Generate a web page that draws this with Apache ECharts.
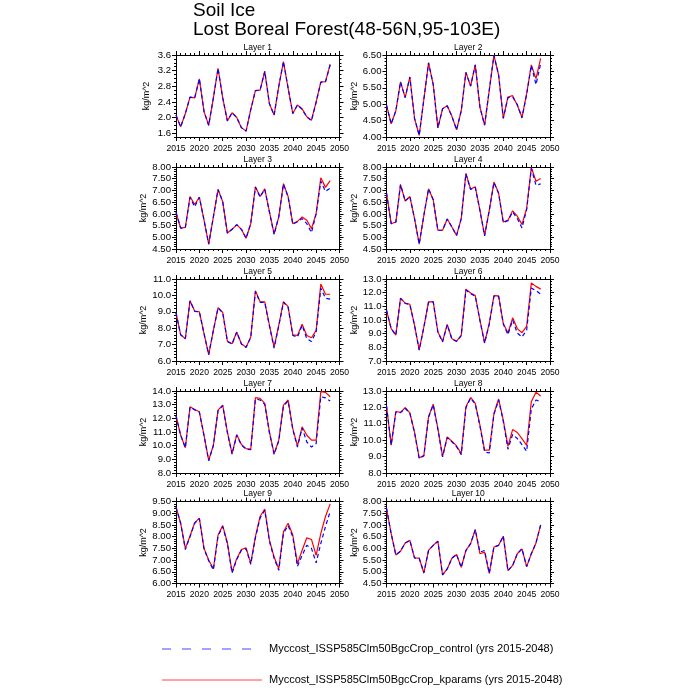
<!DOCTYPE html>
<html><head><meta charset="utf-8">
<script src="https://cdn.jsdelivr.net/npm/echarts@6/dist/echarts.min.js"></script>
<style>html,body{margin:0;padding:0;background:#fff}#c{width:700px;height:700px}</style>
</head><body><div id="c"></div>
<script>
const years = [2015,2016,2017,2018,2019,2020,2021,2022,2023,2024,2025,2026,2027,2028,2029,2030,2031,2032,2033,2034,2035,2036,2037,2038,2039,2040,2041,2042,2043,2044,2045,2046,2047,2048];
const xTicks = [2015,2020,2025,2030,2035,2040,2045,2050];
const layerNames = ['Layer 1','Layer 2','Layer 3','Layer 4','Layer 5','Layer 6','Layer 7','Layer 8','Layer 9','Layer 10'];
const seriesNames = ['Myccost_ISSP585Clm50BgcCrop_control (yrs 2015-2048)','Myccost_ISSP585Clm50BgcCrop_kparams (yrs 2015-2048)'];

const kparams1 = [2.06,1.76,2.1,2.52,2.5,2.99,2.15,1.8,2.5,3.26,2.5,1.91,2.12,2.0,1.74,1.65,2.2,2.69,2.7,3.18,2.35,2.06,2.8,3.43,2.75,2.1,2.32,2.22,2.02,1.93,2.4,2.91,2.92,3.36];
const control1 = [2.06,1.76,2.1,2.52,2.5,2.99,2.15,1.8,2.5,3.26,2.5,1.91,2.12,2.0,1.74,1.65,2.2,2.69,2.7,3.18,2.35,2.06,2.8,3.43,2.75,2.1,2.32,2.21,2.01,1.92,2.39,2.9,2.91,3.35];
const kparams2 = [4.97,4.4,4.8,5.68,5.2,5.83,4.57,4.05,5.15,6.26,5.6,4.28,4.86,4.95,4.63,4.22,4.8,5.97,5.55,6.2,4.91,4.36,5.43,6.49,5.89,4.57,5.22,5.26,4.97,4.6,5.32,6.2,5.78,6.4];
const control2 = [4.97,4.4,4.8,5.68,5.2,5.83,4.57,4.05,5.15,6.26,5.6,4.28,4.86,4.95,4.63,4.22,4.8,5.97,5.55,6.2,4.91,4.36,5.43,6.49,5.89,4.57,5.2,5.22,4.99,4.58,5.3,6.18,5.6,6.24];
const kparams3 = [6.06,5.39,5.42,6.74,6.4,6.71,5.73,4.71,5.87,7.04,6.52,5.18,5.34,5.54,5.34,4.96,5.58,7.16,6.74,7.07,6.09,5.15,5.87,7.29,6.74,5.58,5.68,5.87,5.73,5.37,6.02,7.54,7.13,7.42];
const control3 = [6.06,5.39,5.42,6.7,6.3,6.71,5.73,4.71,5.87,7.04,6.52,5.18,5.34,5.54,5.34,4.96,5.58,7.14,6.72,7.05,6.07,5.12,5.87,7.27,6.72,5.56,5.66,5.8,5.58,5.2,6.0,7.39,6.96,7.1];
const kparams4 = [6.89,5.58,5.65,7.25,6.55,6.74,5.8,4.71,5.94,7.07,6.6,5.3,5.3,5.78,5.44,5.08,5.8,7.73,7.06,7.15,6.16,5.08,6.16,7.36,6.89,5.65,5.73,6.13,5.9,5.55,6.23,7.98,7.39,7.51];
const control4 = [6.89,5.58,5.65,7.25,6.55,6.74,5.8,4.71,5.94,7.07,6.6,5.3,5.3,5.78,5.44,5.08,5.8,7.71,7.04,7.13,6.14,5.06,6.14,7.34,6.87,5.63,5.71,6.08,5.8,5.4,6.18,7.94,7.22,7.28];
const kparams5 = [8.94,7.6,7.36,9.68,9.05,9.0,7.67,6.39,7.87,9.25,8.96,7.21,7.05,7.77,7.05,6.84,7.46,10.28,9.62,9.6,8.18,6.84,8.18,9.62,9.31,7.6,7.56,8.24,7.56,7.42,7.87,10.69,10.07,10.07];
const control5 = [8.94,7.6,7.36,9.66,9.03,9.0,7.67,6.39,7.87,9.23,8.94,7.19,7.03,7.75,7.03,6.82,7.44,10.24,9.58,9.58,8.14,6.78,8.14,9.58,9.27,7.56,7.46,8.18,7.36,7.19,7.77,10.44,9.83,9.77];
const kparams6 = [10.73,9.37,8.9,11.6,11.23,11.15,9.62,7.81,9.49,11.32,11.35,9.12,8.43,9.67,8.63,8.46,8.88,12.26,11.98,11.79,10.0,8.35,9.75,11.79,11.77,9.75,9.05,10.16,9.37,9.07,9.54,12.7,12.46,12.26];
const control6 = [10.73,9.37,8.9,11.58,11.21,11.13,9.6,7.79,9.47,11.3,11.33,9.1,8.4,9.65,8.6,8.43,8.85,12.2,11.92,11.75,9.96,8.3,9.7,11.75,11.73,9.7,8.93,10.0,9.05,8.75,9.25,12.33,12.16,11.89];
const kparams7 = [12.19,10.76,9.85,12.85,12.65,12.48,10.76,8.93,10.03,12.6,12.97,11.0,9.42,10.81,10.08,9.78,9.74,13.51,13.46,13.09,11.0,9.42,10.4,12.97,13.34,11.25,9.98,11.38,10.76,10.4,10.4,13.95,13.9,13.58];
const control7 = [12.19,10.76,9.85,12.82,12.62,12.45,10.73,8.9,10.0,12.56,12.93,10.96,9.38,10.77,10.04,9.74,9.7,13.41,13.34,13.02,10.94,9.36,10.34,12.9,13.27,11.18,9.9,11.3,10.27,9.9,10.15,13.58,13.5,13.26];
const kparams8 = [12.1,9.7,11.75,11.7,11.98,11.67,10.5,8.92,9.08,11.43,12.2,10.71,9.02,10.2,9.94,9.65,9.18,12.04,12.61,12.24,10.92,9.39,9.39,11.63,12.51,11.22,9.63,10.65,10.47,10.1,9.69,12.35,12.92,12.7];
const control8 = [12.1,9.7,11.72,11.68,11.95,11.64,10.46,8.88,9.04,11.4,12.16,10.66,8.98,10.16,9.9,9.6,9.12,11.98,12.56,12.2,10.86,9.29,9.22,11.57,12.46,11.15,9.45,10.35,10.1,9.73,9.33,11.9,12.45,12.35];
const kparams9 = [9.26,8.57,7.5,8.03,8.6,8.79,7.5,7.0,6.63,8.07,8.47,7.74,6.49,7.06,7.45,7.52,6.87,8.0,8.86,9.18,7.85,7.13,6.63,8.21,8.57,8.07,6.84,7.42,7.95,7.88,7.2,8.14,8.86,9.4];
const control9 = [9.26,8.57,7.45,8.0,8.57,8.77,7.47,6.97,6.58,8.03,8.43,7.7,6.45,7.02,7.42,7.48,6.82,7.95,8.8,9.12,7.8,7.08,6.56,8.14,8.47,8.0,6.73,7.2,7.63,7.5,6.88,7.71,8.43,9.07];
const kparams10 = [7.71,6.63,5.72,5.88,6.23,6.34,5.59,5.58,4.95,5.91,6.13,6.3,4.87,5.12,5.58,5.74,5.19,5.91,6.2,6.8,5.77,5.84,4.93,6.06,6.13,6.52,5.05,5.27,5.77,5.98,5.22,5.77,6.23,7.0];
const control10 = [7.71,6.63,5.72,5.88,6.23,6.34,5.59,5.58,4.95,5.91,6.13,6.3,4.87,5.12,5.58,5.74,5.19,5.91,6.2,6.8,5.84,5.91,4.93,6.06,6.13,6.52,5.05,5.27,5.77,5.98,5.22,5.77,6.23,7.0];

const yTicks1 = [1.6,2.0,2.4,2.8,3.2,3.6];
const yTicks2 = [4.0,4.5,5.0,5.5,6.0,6.5];
const yTicks3 = [4.5,5.0,5.5,6.0,6.5,7.0,7.5,8.0];
const yTicks4 = [4.5,5.0,5.5,6.0,6.5,7.0,7.5,8.0];
const yTicks5 = [6,7,8,9,10,11];
const yTicks6 = [7,8,9,10,11,12,13];
const yTicks7 = [8,9,10,11,12,13,14];
const yTicks8 = [8,9,10,11,12,13];
const yTicks9 = [6.0,6.5,7.0,7.5,8.0,8.5,9.0,9.5];
const yTicks10 = [4.5,5.0,5.5,6.0,6.5,7.0,7.5,8.0];
const yMin = [1.5,4.0,4.5,4.5,6,7,8,8,6.0,4.5];
const yMax = [3.6,6.5,8.0,8.0,11,13,14,13,9.5,8.0];
const yMinorStep = [0.1,0.1,0.1,0.1,0.2,0.2,0.2,0.2,0.1,0.1];
const yDecimals = [1,2,2,2,1,1,1,1,2,2];

const kparams = [kparams1,kparams2,kparams3,kparams4,kparams5,kparams6,kparams7,kparams8,kparams9,kparams10];
const control = [control1,control2,control3,control4,control5,control6,control7,control8,control9,control10];
const yTicks = [yTicks1,yTicks2,yTicks3,yTicks4,yTicks5,yTicks6,yTicks7,yTicks8,yTicks9,yTicks10];

const FONT = 'Liberation Sans';
const colX = [176, 386.5], rowY = [55, 167, 279, 391, 501.5], W = 163.5, H = 82;

function minorVals(min, max, step, majors) {
  const out = [];
  const n = Math.round((max - min) / step);
  for (let i = 0; i <= n; i++) {
    const v = +(min + i * step).toFixed(4);
    if (!majors.some(m => Math.abs(m - v) < 1e-6)) out.push(v);
  }
  return out;
}
const xMinor = minorVals(2015, 2050, 1, xTicks);

const grid = [], xAxis = [], yAxis = [], series = [], graphic = [];
const black = '#000';

for (let g = 0; g < 10; g++) {
  const r = Math.floor(g / 2), c = g % 2;
  grid.push({left: colX[c], top: rowY[r], width: W, height: H, containLabel: false, outerBoundsMode: 'none'});
  const yMinorV = minorVals(yMin[g], yMax[g], yMinorStep[g], yTicks[g]);
  ['bottom', 'top'].forEach((pos, k) => {
    xAxis.push({type: 'value', gridIndex: g, position: pos, min: 2015, max: 2050,
      axisLine: {show: true, onZero: false, lineStyle: {color: black, width: 1}},
      axisTick: {show: true, inside: false, length: 4, customValues: xTicks, lineStyle: {color: black, width: 1}},
      axisLabel: {show: k === 0, customValues: xTicks, margin: 7, fontSize: 8.6, color: black, fontFamily: FONT, formatter: v => String(Math.round(v))},
      splitLine: {show: false}});
  });
  ['bottom', 'top'].forEach(pos => {
    xAxis.push({type: 'value', gridIndex: g, position: pos, min: 2015, max: 2050,
      axisLine: {show: false, onZero: false},
      axisTick: {show: true, inside: false, length: 2, customValues: xMinor, lineStyle: {color: black, width: 1}},
      axisLabel: {show: false}, splitLine: {show: false}});
  });
  ['left', 'right'].forEach((pos, k) => {
    const ax = {type: 'value', gridIndex: g, position: pos, min: yMin[g], max: yMax[g],
      axisLine: {show: true, onZero: false, lineStyle: {color: black, width: 1}},
      axisTick: {show: true, inside: false, length: 4, customValues: yTicks[g], lineStyle: {color: black, width: 1}},
      axisLabel: {show: k === 0, customValues: yTicks[g], margin: 5, fontSize: 9.6, color: black, fontFamily: FONT, formatter: v => v.toFixed(yDecimals[g])},
      splitLine: {show: false}};
    if (k === 0) {
      ax.name = 'kg/m^2'; ax.nameLocation = 'middle'; ax.nameGap = 25; ax.nameRotate = 90;
      ax.nameTextStyle = {fontSize: 9, fontFamily: FONT, color: black};
    }
    yAxis.push(ax);
  });
  ['left', 'right'].forEach(pos => {
    yAxis.push({type: 'value', gridIndex: g, position: pos, min: yMin[g], max: yMax[g],
      axisLine: {show: false, onZero: false},
      axisTick: {show: true, inside: false, length: 2, customValues: yMinorV, lineStyle: {color: black, width: 1}},
      axisLabel: {show: false}, splitLine: {show: false}});
  });
  series.push({type: 'line', name: seriesNames[1], xAxisIndex: 4 * g, yAxisIndex: 4 * g,
    data: years.map((yr, i) => [yr, kparams[g][i]]), symbol: 'none', silent: true, z: 2,
    lineStyle: {color: '#ff0000', width: 1.2}});
  series.push({type: 'line', name: seriesNames[0], xAxisIndex: 4 * g, yAxisIndex: 4 * g,
    data: years.map((yr, i) => [yr, control[g][i]]), symbol: 'none', silent: true, z: 3,
    lineStyle: {color: '#0000ff', width: 1.2, type: [4, 3]}});
  graphic.push({type: 'text', x: colX[c] + W / 2, y: rowY[r] - 7.5,
    style: {text: layerNames[g], fontSize: 8.5, fontFamily: FONT, fill: black, align: 'center', verticalAlign: 'middle', textAlign: 'center', textVerticalAlign: 'middle'}});
}

graphic.push({type: 'text', x: 193, y: 11, style: {text: 'Soil Ice', fontSize: 19, fontFamily: FONT, fill: black, verticalAlign: 'middle', textVerticalAlign: 'middle'}});
graphic.push({type: 'text', x: 193, y: 30, style: {text: 'Lost Boreal Forest(48-56N,95-103E)', fontSize: 19, fontFamily: FONT, fill: black, verticalAlign: 'middle', textVerticalAlign: 'middle'}});
graphic.push({type: 'line', shape: {x1: 162, y1: 649, x2: 256, y2: 649}, style: {stroke: '#4444ff', lineWidth: 1, lineDash: [9, 11]}});
graphic.push({type: 'text', x: 269, y: 649, style: {text: seriesNames[0], fontSize: 11, fontFamily: FONT, fill: black, verticalAlign: 'middle', textVerticalAlign: 'middle'}});
graphic.push({type: 'line', shape: {x1: 162, y1: 680, x2: 262, y2: 680}, style: {stroke: '#ff4444', lineWidth: 1}});
graphic.push({type: 'text', x: 269, y: 680, style: {text: seriesNames[1], fontSize: 11, fontFamily: FONT, fill: black, verticalAlign: 'middle', textVerticalAlign: 'middle'}});

const chart = echarts.init(document.getElementById('c'), null, {renderer: 'canvas'});
chart.setOption({animation: false, backgroundColor: '#fff', grid, xAxis, yAxis, series, graphic});
</script>
</body></html>
